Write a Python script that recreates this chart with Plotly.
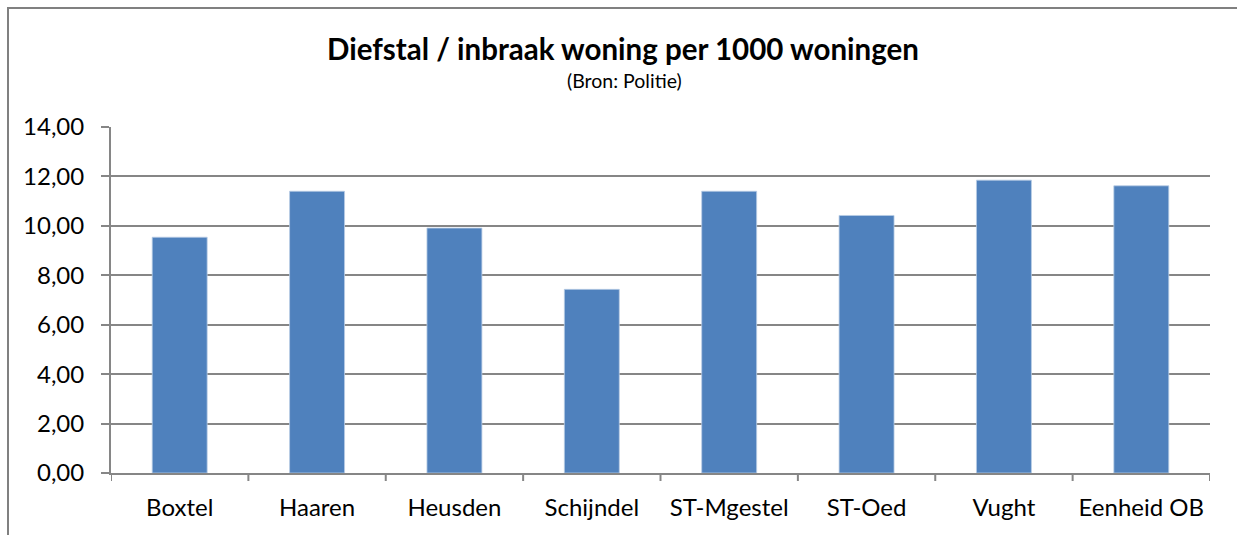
import plotly.graph_objects as go

categories = ["Boxtel", "Haaren", "Heusden", "Schijndel", "ST-Mgestel", "ST-Oed", "Vught", "Eenheid OB"]
values = [9.54, 11.40, 9.91, 7.43, 11.40, 10.42, 11.85, 11.62]
y_ticks = [0, 2, 4, 6, 8, 10, 12, 14]
y_tick_labels = ["0,00", "2,00", "4,00", "6,00", "8,00", "10,00", "12,00", "14,00"]

title_text = "Diefstal / inbraak woning per 1000 woningen"
subtitle_text = "(Bron: Politie)"

FONT = "Lato, Calibri, sans-serif"
GRID = "#868686"

fig = go.Figure(go.Bar(
    x=categories, y=values,
    marker=dict(color="#4F81BD", line=dict(color="#B9CDE5", width=0.8)),
    width=0.4,
))

W, H = 1237, 535
L, R, T, B = 111, 27, 127, 62
pw, ph = W - L - R, H - T - B

def px(x):
    return (x - L) / pw

def py(y):
    return (H - B - y) / ph

fig.update_layout(
    width=W, height=H,
    margin=dict(l=L, r=R, t=T, b=B),
    paper_bgcolor="white", plot_bgcolor="white",
    showlegend=False,
    font=dict(family=FONT, color="black", size=24),
    xaxis=dict(
        type="category", showgrid=False,
        showline=True, linecolor=GRID, linewidth=2,
        ticks="", tickfont=dict(size=24, family=FONT),
        ticklabelstandoff=12,
        range=[-0.5, 7.5],
    ),
    yaxis=dict(
        range=[0, 14], tickvals=y_ticks, ticktext=y_tick_labels,
        showgrid=True, gridcolor=GRID, gridwidth=2,
        showline=True, linecolor=GRID, linewidth=2,
        ticks="outside", ticklen=8, tickcolor=GRID, tickwidth=2,
        tickfont=dict(size=24, family=FONT),
        ticklabelstandoff=12,
        zeroline=False,
    ),
    annotations=[
        dict(text="<b>" + title_text + "</b>", x=px(623), xref="paper", xanchor="center",
             y=py(48), yref="paper", yanchor="middle", showarrow=False,
             font=dict(size=29.5, family=FONT, color="black")),
        dict(text=subtitle_text, x=px(624), xref="paper", xanchor="center",
             y=py(81), yref="paper", yanchor="middle", showarrow=False,
             font=dict(size=19.5, family=FONT, color="black")),
    ],
)

shapes = []
# category boundary ticks below the x axis
for i in range(len(categories) + 1):
    shapes.append(dict(type="line", xref="x", yref="paper",
                       x0=i - 0.5, x1=i - 0.5, y0=0, y1=-8 / ph,
                       line=dict(color=GRID, width=2)))
# outer frame (left and top)
shapes.append(dict(type="line", xref="paper", yref="paper",
                   x0=px(8), x1=px(8), y0=py(8), y1=py(H + 5),
                   line=dict(color="#808080", width=2)))
shapes.append(dict(type="line", xref="paper", yref="paper",
                   x0=px(7), x1=px(W + 5), y0=py(8), y1=py(8),
                   line=dict(color="#808080", width=2)))
fig.update_layout(shapes=shapes)

fig.write_html("out.html",
               config={"displayModeBar": False},
               post_script="document.body.style.margin='0';document.body.style.overflow='hidden';")
